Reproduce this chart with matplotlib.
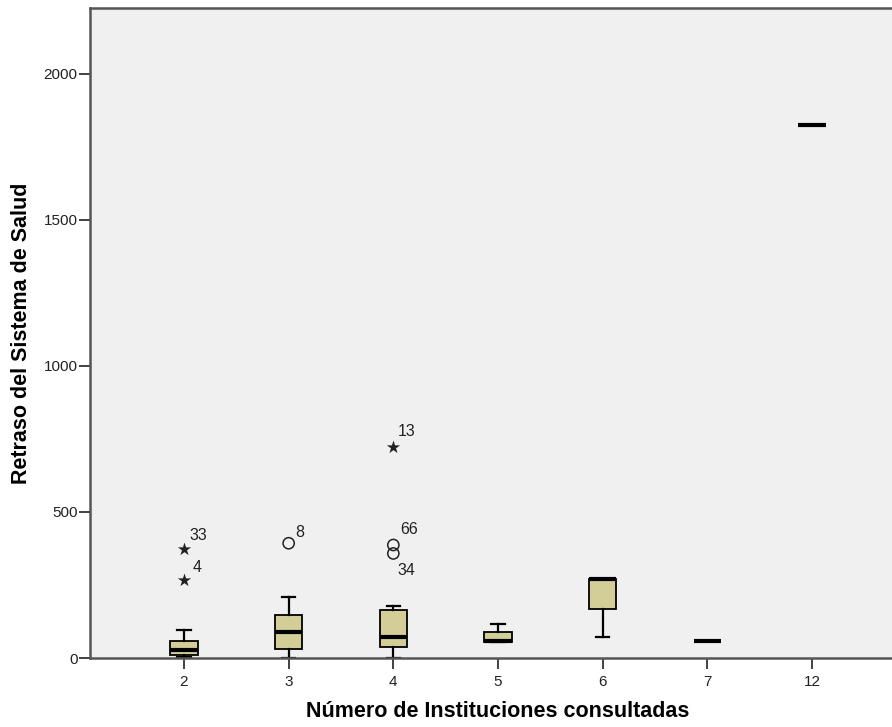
import matplotlib.pyplot as plt

# categorias y estadisticos de cada caja
categorias = ["2", "3", "4", "5", "6", "7", "12"]
q1 = [10, 32, 39, 55, 168, 58, 1824]
mediana = [28, 89, 72, 58, 269, 58, 1824]
q3 = [58, 147, 163, 88, 269, 58, 1824]
bigote_inf = [2, 0, 0, 55, 72, 58, 1824]
bigote_sup = [96, 208, 178, 117, 269, 58, 1824]

# valores atipicos: (categoria, valor, caso)
atip_x = ["3", "4", "4"]
atip_y = [393, 387, 358]
atip_id = ["8", "66", "34"]
extr_x = ["2", "2", "4"]
extr_y = [372, 267, 724]
extr_id = ["33", "4", "13"]

plt.rcParams['font.family'] = ['Liberation Sans', 'DejaVu Sans']

fig = plt.figure(figsize=(8.92, 7.27), dpi=100)
ax = fig.add_axes([90 / 892, 69 / 727, 802 / 892, 650 / 727])
ax.set_facecolor("#F0F0F0")

stats = []
for i in range(len(categorias)):
    stats.append({"med": mediana[i], "q1": q1[i], "q3": q3[i],
                  "whislo": bigote_inf[i], "whishi": bigote_sup[i],
                  "fliers": [], "label": categorias[i]})

pos = list(range(len(categorias)))
ax.bxp(stats, positions=pos, widths=0.26, capwidths=0.13, patch_artist=True,
       showfliers=False,
       boxprops=dict(facecolor="#D3CE98", edgecolor="black", linewidth=1.3),
       medianprops=dict(color="black", linewidth=3, solid_capstyle="butt"),
       whiskerprops=dict(color="black", linewidth=1.6),
       capprops=dict(color="black", linewidth=1.6))

idx = {c: i for i, c in enumerate(categorias)}

# desplazamientos de las etiquetas (en puntos)
off_atip = [(5, 8), (5, 11), (3, -12)]
off_extr = [(4, 10), (6, 9), (3, 11)]

ax.scatter([idx[c] for c in atip_x], atip_y, s=65, facecolors="none",
           edgecolors="#222222", linewidths=1.1, zorder=5)
ax.scatter([idx[c] for c in extr_x], extr_y, s=100, marker="*",
           color="#222222", linewidths=0, zorder=5)
for c, v, t, o in zip(atip_x, atip_y, atip_id, off_atip):
    ax.annotate(t, (idx[c], v), xytext=o, textcoords="offset points",
                fontsize=11.5, color="#222222", va="center")
for c, v, t, o in zip(extr_x, extr_y, extr_id, off_extr):
    ax.annotate(t, (idx[c], v), xytext=o, textcoords="offset points",
                fontsize=11.5, color="#222222", va="center")

ax.set_xlim(-0.898, 6.764)
ax.set_ylim(0, 2226)
ax.set_xticks(pos)
ax.set_xticklabels(categorias)
ax.set_yticks([0, 500, 1000, 1500, 2000])

ax.tick_params(axis="both", labelsize=11, length=8, width=1.3, color="#333333",
               labelcolor="#222222")
ax.tick_params(axis="y", pad=1)
ax.tick_params(axis="x", pad=4)

for s in ["left", "top", "bottom"]:
    ax.spines[s].set_color("#555555")
    ax.spines[s].set_linewidth(1.8)
ax.spines["right"].set_visible(False)

ax.set_xlabel("Número de Instituciones consultadas", fontsize=15.5, fontweight="bold")
ax.set_ylabel("Retraso del Sistema de Salud", fontsize=15.5, fontweight="bold")
ax.xaxis.set_label_coords(0.508, -0.066)
ax.yaxis.set_label_coords(-0.072, 0.5)

fig.savefig("out.png", dpi=100)
